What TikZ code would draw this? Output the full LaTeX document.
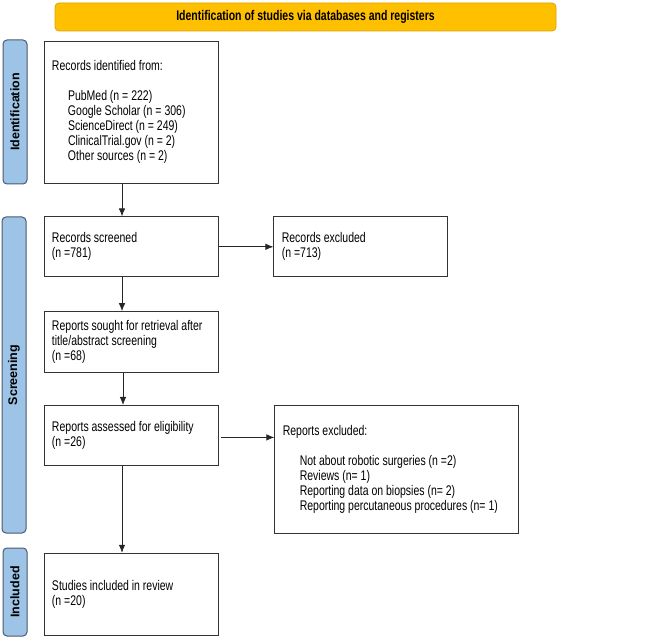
\documentclass[tikz,border=0pt]{standalone}
\usepackage{fontspec}
\setmainfont[FakeStretch=0.75]{Liberation Sans}
\newfontfamily\sidefont{Liberation Sans}
\newcommand\tightspace{\spaceskip=2.9pt plus 1pt minus 0.5pt\rightskip=0pt plus 1fil\relax}
\usetikzlibrary{arrows,arrows.meta,shapes,positioning}
\definecolor{bannerfill}{HTML}{FFC000}
\definecolor{bannerdraw}{HTML}{D9A400}
\definecolor{phasefill}{HTML}{9DC3E6}
\definecolor{phasedraw}{HTML}{4A5A6E}

\begin{document}
\begin{tikzpicture}[x=1pt,y=1pt,node distance=33pt,>={Latex[length=8pt,width=6.5pt]}]
  \tikzstyle{box}=[rectangle,draw=black!80,line width=0.8pt,align=left,
                   inner xsep=8pt,text width=158pt,
                   font=\fontsize{14}{15}\selectfont,
                   execute at begin node=\tightspace]
  \tikzstyle{wide box}=[box,text width=228pt]
  \tikzstyle{phase}=[rectangle,rounded corners=4pt,draw=phasedraw,line width=1pt,
                     fill=phasefill,rotate=90,minimum height=24pt,
                     font=\sidefont\bfseries\fontsize{12.5}{14}\selectfont]
  \tikzstyle{banner}=[rectangle,rounded corners=4pt,draw=bannerdraw,line width=0.8pt,
                      fill=bannerfill,minimum width=501pt,minimum height=28pt,
                      font=\bfseries\fontsize{14}{15}\selectfont]
  \tikzstyle{flow}=[->,draw=black!85,line width=0.8pt]

  \useasboundingbox (0,0) rectangle (646,-639);

  % title and phases
  \node [banner] (title) at (305.5,-17) {Identification of studies via databases and registers};
  \node [phase,minimum width=144pt] (ident) at (15,-112) {Identification};
  \node [phase,minimum width=316pt] (screen) at (14,-375) {Screening};
  \node [phase,minimum width=88pt] (incl) at (15,-592) {Included};

  % main column
  \node [box,minimum height=142pt] (found) at (131,-112)
    {Records identified from:\\[15pt]
     \hspace*{16pt}PubMed (n = 222)\\
     \hspace*{16pt}Google Scholar (n = 306)\\
     \hspace*{16pt}ScienceDirect (n = 249)\\
     \hspace*{16pt}ClinicalTrial.gov (n = 2)\\
     \hspace*{16pt}Other sources (n = 2)\\[8pt]};
  \node [box,minimum height=60pt] (screened) [below=of found]
    {Records screened\\(n =781)};
  \node [box,minimum height=61pt] (sought) [below=34pt of screened]
    {Reports sought for retrieval after\\title/abstract screening\\(n =68)};
  \node [box,minimum height=60pt] (assessed) [below=32pt of sought]
    {Reports assessed for eligibility\\(n =26)};
  \node [box,minimum height=82pt] (included) [below=87pt of assessed]
    {Studies included in review\\(n =20)};

  % excluded
  \node [box,minimum height=60pt] (recexcl) [right=55pt of screened]
    {Records excluded\\(n =713)};
  \node [wide box,minimum height=128pt] (repexcl) [right=56pt of assessed.north east,anchor=north west]
    {Reports excluded:\\[15pt]
     \hspace*{17pt}Not about robotic surgeries (n =2)\\
     \hspace*{17pt}Reviews (n= 1)\\
     \hspace*{17pt}Reporting data on biopsies (n= 2)\\
     \hspace*{17pt}Reporting percutaneous procedures (n= 1)\\[12pt]};

  % arrows
  \draw [flow] ([xshift=-9pt]found.south) -- ([xshift=-9pt]found.south |- screened.north);
  \draw [flow] ([xshift=-9pt]screened.south) -- ([xshift=-9pt]screened.south |- sought.north);
  \draw [flow] ([xshift=-8pt]sought.south) -- ([xshift=-8pt]sought.south |- assessed.north);
  \draw [flow] ([xshift=-9pt]assessed.south) -- ([xshift=-9pt]assessed.south |- included.north);
  \draw [flow] (screened.east) -- (recexcl.west);
  \draw [flow] ([xshift=3pt,yshift=-2pt]assessed.east) -- ([yshift=-2pt]repexcl.west |- assessed.east);
\end{tikzpicture}
\end{document}
